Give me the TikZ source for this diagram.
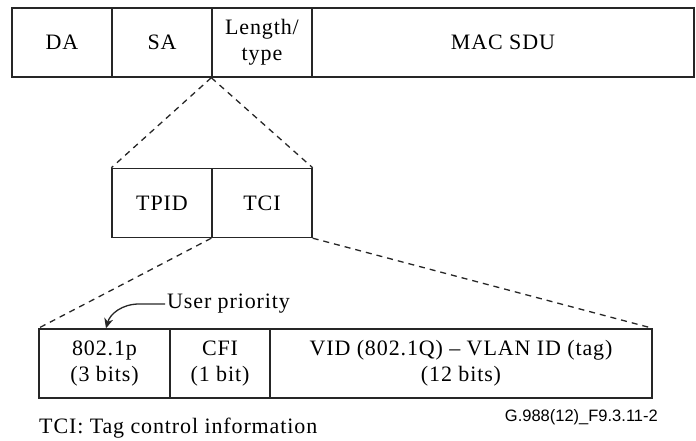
\documentclass[tikz,border=0pt]{standalone}
\usepackage{fontspec}
\setmainfont[LetterSpace=4]{Liberation Serif}
\newfontfamily\labelsans{Liberation Sans}
\usetikzlibrary{arrows.meta,calc}
\begin{document}
\begin{tikzpicture}[x=1pt,y=-1pt,
  cell/.style={draw=black!85, line width=1.4pt, minimum height=69pt, inner sep=0pt, align=center,
    font=\fontsize{22}{26}\selectfont},
  zoomline/.style={draw=black!85, line width=1.3pt, dash pattern=on 6pt off 5pt},
  txt/.style={inner sep=0pt, font=\fontsize{22}{26}\selectfont}]
\useasboundingbox (0,0) rectangle (696,441);
% top row
\node[cell, minimum width=100pt] (da) at (62,42.5) {DA};
\node[cell, minimum width=100pt] (sa) at (162,42.5) {SA};
\node[cell, minimum width=100pt] (lt) at (262,42.5) {Length/\\type};
\node[cell, minimum width=382pt] (mac) at (503,42.5) {MAC SDU};
% middle row
\node[cell, minimum width=100pt] (tpid) at (162,203) {TPID};
\node[cell, minimum width=100pt] (tci) at (262,203) {TCI};
% bottom row
\node[cell, minimum width=131pt] (p802) at (104.5,363.5) {802.1p\\(3 bits)};
\node[cell, minimum width=100pt] (cfi) at (220,363.5) {CFI\\(1 bit)};
\node[cell, minimum width=382pt] (vid) at (461,363.5) {VID (802.1Q) -- VLAN ID (tag)\\(12 bits)};
% zoom lines
\draw[zoomline] (lt.south west) -- (tpid.north west);
\draw[zoomline] (lt.south west) -- (tci.north east);
\draw[zoomline] (tci.south west) -- (p802.north west);
\draw[zoomline] (tci.south east) -- (vid.north east);
% user priority
\node[txt, anchor=west] (up) at (167,304) {User priority};
\coordinate (tip) at ($(p802.north)+(1.5,0)$);
\draw[line width=1.3pt, draw=black!85, -{Stealth[length=10pt,width=9pt]}]
  ([xshift=-2pt]up.west) -- ++(-26,0) .. controls (122,304) and (110,314) .. (tip);
% captions
\node[txt, anchor=base west] (cap) at (39,433) {TCI: Tag control information};
\node[inner sep=0pt, anchor=base east, font=\labelsans\fontsize{16.5}{18}\selectfont] (fig) at (658,421) {G.988(12)\_F9.3.11-2};
\end{tikzpicture}
\end{document}
